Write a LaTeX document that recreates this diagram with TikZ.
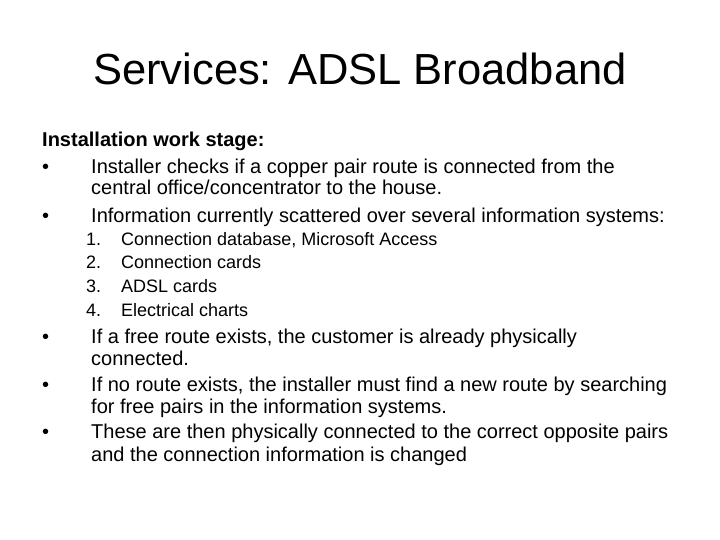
\documentclass[tikz,border=0pt]{standalone}
\usepackage{fontspec}
\setmainfont{Liberation Sans}
\begin{document}
\begin{tikzpicture}[x=1bp,y=-1bp,
  txt/.style={anchor=base west,inner sep=0pt,font=\fontsize{20bp}{22bp}\selectfont},
  sub/.style={anchor=base west,inner sep=0pt,font=\fontsize{18bp}{20bp}\selectfont}]
\useasboundingbox[fill=white] (0,0) rectangle (720,540);
\node[anchor=base,inner sep=0pt,font=\fontsize{43.5bp}{48bp}\selectfont] (title) at (360,85) {Services: ADSL Broadband};
\node[txt,font=\fontsize{20bp}{22bp}\selectfont\bfseries] (h) at (42,147) {Installation work stage:};
\node[txt] (b1) at (42,174) {•}; \node[txt] (t1) at (91,174) {Installer checks if a copper pair route is connected from the};
\node[txt] (t1b) at (91,195) {central office/concentrator to the house.};
\node[txt] (b2) at (42,223) {•}; \node[txt] (t2) at (91,223) {Information currently scattered over several information systems:};
\node[sub] (n1) at (86,246) {1.}; \node[sub] (s1) at (121,246) {Connection database, Microsoft Access};
\node[sub] (n2) at (86,269) {2.}; \node[sub] (s2) at (121,269) {Connection cards};
\node[sub] (n3) at (86,292) {3.}; \node[sub] (s3) at (121,292) {ADSL cards};
\node[sub] (n4) at (86,316) {4.}; \node[sub] (s4) at (121,316) {Electrical charts};
\node[txt] (b3) at (42,343) {•}; \node[txt] (t3) at (91,343) {If a free route exists, the customer is already physically};
\node[txt] (t3b) at (91,365) {connected.};
\node[txt] (b4) at (42,391) {•}; \node[txt] (t4) at (91,391) {If no route exists, the installer must find a new route by searching};
\node[txt] (t4b) at (91,413) {for free pairs in the information systems.};
\node[txt] (b5) at (42,438) {•}; \node[txt] (t5) at (91,438) {These are then physically connected to the correct opposite pairs};
\node[txt] (t5b) at (91,461) {and the connection information is changed};
\end{tikzpicture}
\end{document}
